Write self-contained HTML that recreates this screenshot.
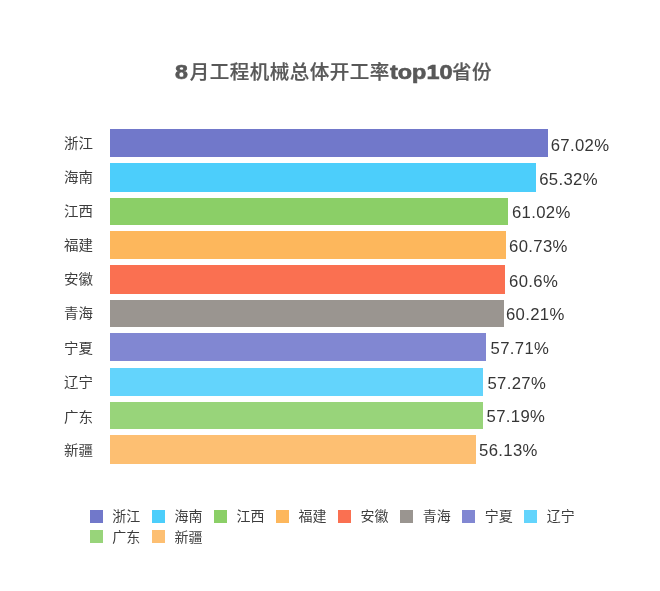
<!DOCTYPE html>
<html lang="zh-CN"><head><meta charset="utf-8"><title>8月工程机械总体开工率top10省份</title>
<style>
html,body{margin:0;padding:0;background:#fff;}
body{width:660px;height:591px;position:relative;overflow:hidden;font-family:"Liberation Sans","Noto Sans CJK SC",sans-serif;}
.abs{position:absolute;white-space:nowrap;}
.title{left:175px;top:57.6px;height:28px;line-height:28px;font-size:20px;font-weight:bold;color:#585858;}
.title .c{display:inline-block;vertical-align:top;font-size:19.5px;letter-spacing:0.5px;font-weight:500;-webkit-text-stroke:0.22px #585858;}
.title .l{display:inline-block;vertical-align:top;height:28px;}
.title .l i{display:inline-block;font-style:normal;transform-origin:0 50%;-webkit-text-stroke:0.6px #555;}
.bar{position:absolute;}
.yl{transform:scaleY(0.93);font-size:14.5px;color:#3c3c3c;width:60px;text-align:right;height:20px;line-height:20px;}
.vl{font-size:16.7px;letter-spacing:0.35px;color:#363636;height:20px;line-height:20px;}
.sw{position:absolute;width:13px;height:13px;}
.lg{transform:scaleY(0.95);font-size:14px;color:#3c3c3c;height:20px;line-height:20px;}
</style></head><body>
<div class="abs title"><span class="l" style="width:14.4px;padding-left:0.3px"><i style="transform:scaleX(1.16)">8</i></span><span class="c">月工程机械总体开工率</span><span class="l" style="width:62.3px"><i style="transform:scaleX(1.17)">top10</i></span><span class="c">省份</span></div>

<div class="bar" style="left:110.0px;top:128.60px;width:438.00px;height:28.60px;background:#7178ca"></div>
<div class="abs yl" style="left:33px;top:132.9px">浙江</div>
<div class="abs vl" style="left:550.7px;top:136px">67.02%</div>
<div class="bar" style="left:110.0px;top:163.40px;width:426.30px;height:28.20px;background:#4ccefb"></div>
<div class="abs yl" style="left:33px;top:167.2px">海南</div>
<div class="abs vl" style="left:539.2px;top:170px">65.32%</div>
<div class="bar" style="left:110.0px;top:197.70px;width:398.10px;height:27.00px;background:#8bcf67"></div>
<div class="abs yl" style="left:33px;top:201.2px">江西</div>
<div class="abs vl" style="left:511.9px;top:203px">61.02%</div>
<div class="bar" style="left:110.0px;top:230.80px;width:396.20px;height:28.50px;background:#fdb75c"></div>
<div class="abs yl" style="left:33px;top:234.8px">福建</div>
<div class="abs vl" style="left:509.1px;top:237px">60.73%</div>
<div class="bar" style="left:110.0px;top:265.40px;width:395.00px;height:28.35px;background:#fa7051"></div>
<div class="abs yl" style="left:33px;top:269.2px">安徽</div>
<div class="abs vl" style="left:509.1px;top:272px">60.6%</div>
<div class="bar" style="left:110.0px;top:299.70px;width:393.80px;height:27.00px;background:#9a9590"></div>
<div class="abs yl" style="left:33px;top:303.4px">青海</div>
<div class="abs vl" style="left:505.9px;top:305px">60.21%</div>
<div class="bar" style="left:110.0px;top:332.70px;width:376.10px;height:28.50px;background:#8187d2"></div>
<div class="abs yl" style="left:33px;top:338.2px">宁夏</div>
<div class="abs vl" style="left:490.5px;top:339px">57.71%</div>
<div class="bar" style="left:110.0px;top:367.50px;width:373.20px;height:28.10px;background:#63d4fc"></div>
<div class="abs yl" style="left:33px;top:372.2px">辽宁</div>
<div class="abs vl" style="left:487.4px;top:374px">57.27%</div>
<div class="bar" style="left:110.0px;top:401.70px;width:373.20px;height:27.00px;background:#98d47a"></div>
<div class="abs yl" style="left:33px;top:406.8px">广东</div>
<div class="abs vl" style="left:486.5px;top:407px">57.19%</div>
<div class="bar" style="left:110.0px;top:434.80px;width:365.90px;height:28.90px;background:#fdbf72"></div>
<div class="abs yl" style="left:33px;top:440.2px">新疆</div>
<div class="abs vl" style="left:479.1px;top:441px">56.13%</div>
<div class="sw" style="left:90.3px;top:509.6px;background:#7178ca"></div>
<div class="abs lg" style="left:112.3px;top:506.2px">浙江</div>
<div class="sw" style="left:152.3px;top:509.6px;background:#4ccefb"></div>
<div class="abs lg" style="left:174.4px;top:506.2px">海南</div>
<div class="sw" style="left:214.2px;top:509.6px;background:#8bcf67"></div>
<div class="abs lg" style="left:236.5px;top:506.2px">江西</div>
<div class="sw" style="left:276.2px;top:509.6px;background:#fdb75c"></div>
<div class="abs lg" style="left:298.6px;top:506.2px">福建</div>
<div class="sw" style="left:338.1px;top:509.6px;background:#fa7051"></div>
<div class="abs lg" style="left:360.6px;top:506.2px">安徽</div>
<div class="sw" style="left:400.1px;top:509.6px;background:#9a9590"></div>
<div class="abs lg" style="left:422.7px;top:506.2px">青海</div>
<div class="sw" style="left:462.1px;top:509.6px;background:#8187d2"></div>
<div class="abs lg" style="left:484.8px;top:506.2px">宁夏</div>
<div class="sw" style="left:524.0px;top:509.6px;background:#63d4fc"></div>
<div class="abs lg" style="left:546.8px;top:506.2px">辽宁</div>
<div class="sw" style="left:90.3px;top:530.0px;background:#98d47a"></div>
<div class="abs lg" style="left:112.3px;top:526.7px">广东</div>
<div class="sw" style="left:152.3px;top:530.0px;background:#fdbf72"></div>
<div class="abs lg" style="left:174.4px;top:526.7px">新疆</div>
</body></html>
